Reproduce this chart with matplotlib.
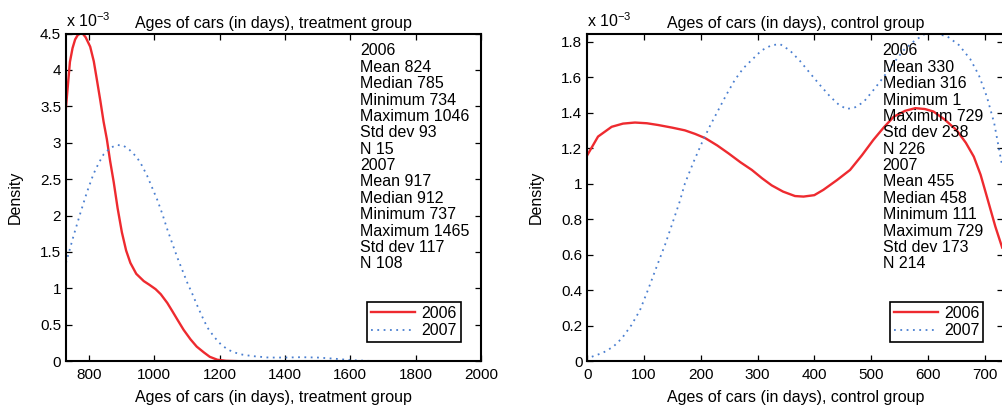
import numpy as np
import matplotlib
matplotlib.use('Agg')
import matplotlib.pyplot as plt
from matplotlib.ticker import FuncFormatter

plt.rcParams['font.family'] = ['Liberation Sans', 'DejaVu Sans']
plt.rcParams['mathtext.fontset'] = 'custom'
plt.rcParams['mathtext.rm'] = 'Liberation Sans'

# density values are in units of 1e-3
treat_x_2006 = [730, 742, 750, 758, 766, 774, 781, 790, 804, 815, 824, 835, 845, 855, 865, 876, 888,
                901, 914, 927, 945, 968, 985, 1004, 1020, 1040, 1055, 1071, 1090, 1111, 1130, 1152,
                1170, 1193, 1220, 1260, 1300, 2000]
treat_y_2006 = [3.49, 4.11, 4.3, 4.42, 4.48, 4.5, 4.5, 4.45, 4.32, 4.12, 3.88, 3.58, 3.29, 3.05, 2.75,
                2.46, 2.1, 1.77, 1.52, 1.35, 1.2, 1.1, 1.05, 0.99, 0.92, 0.8, 0.69, 0.57, 0.43, 0.3,
                0.2, 0.12, 0.06, 0.02, 0.005, 0.0, 0.0, 0.0]
treat_x_2007 = [730, 753, 773, 794, 814, 830, 845, 865, 886, 906, 925, 947, 962, 978, 993, 1009, 1025,
                1040, 1055, 1071, 1086, 1101, 1117, 1132, 1148, 1163, 1184, 1204, 1225, 1245, 1270,
                1300, 1350, 1400, 1450, 1500, 1550, 1600, 1650, 1700, 2000]
treat_y_2007 = [1.35, 1.72, 2.02, 2.32, 2.57, 2.72, 2.84, 2.93, 2.97, 2.96, 2.9, 2.8, 2.69, 2.55, 2.39,
                2.22, 2.02, 1.81, 1.62, 1.42, 1.25, 1.08, 0.92, 0.76, 0.6, 0.46, 0.33, 0.23, 0.16,
                0.12, 0.09, 0.07, 0.05, 0.05, 0.055, 0.05, 0.035, 0.015, 0.005, 0.0, 0.0]

ctrl_x_2006 = [0, 19, 43, 63, 84, 105, 125, 150, 172, 190, 208, 229, 249, 270, 290, 308, 325, 345,
               366, 381, 400, 416, 440, 463, 484, 504, 522, 540, 560, 578, 595, 610, 630, 651, 667,
               681, 693, 704, 719, 731]
ctrl_y_2006 = [1.16, 1.265, 1.32, 1.338, 1.344, 1.34, 1.33, 1.315, 1.3, 1.28, 1.256, 1.215, 1.17,
               1.12, 1.077, 1.03, 0.99, 0.955, 0.93, 0.927, 0.935, 0.965, 1.02, 1.077, 1.16, 1.246,
               1.315, 1.377, 1.41, 1.425, 1.42, 1.406, 1.36, 1.3, 1.23, 1.152, 1.05, 0.927, 0.758, 0.64]
ctrl_x_2007 = [8, 28, 46, 61, 78, 93, 108, 122, 137, 149, 163, 172, 187, 202, 217, 231, 245, 260,
               275, 290, 307, 325, 340, 357, 375, 393, 410, 428, 443, 457, 472, 487, 505, 522, 540,
               557, 575, 593, 613, 634, 655, 675, 690, 704, 717, 731]
ctrl_y_2007 = [0.025, 0.048, 0.082, 0.129, 0.204, 0.288, 0.41, 0.53, 0.655, 0.767, 0.9, 1.0, 1.12,
               1.23, 1.33, 1.415, 1.5, 1.584, 1.65, 1.697, 1.75, 1.78, 1.785, 1.75, 1.69, 1.62,
               1.555, 1.49, 1.445, 1.42, 1.43, 1.46, 1.53, 1.6, 1.68, 1.75, 1.8, 1.84, 1.845, 1.83,
               1.78, 1.7, 1.61, 1.49, 1.34, 1.1]

treat_stats = ['2006', 'Mean 824', 'Median 785', 'Minimum 734', 'Maximum 1046', 'Std dev 93', 'N 15',
               '2007', 'Mean 917', 'Median 912', 'Minimum 737', 'Maximum 1465', 'Std dev 117', 'N 108']
ctrl_stats = ['2006', 'Mean 330', 'Median 316', 'Minimum 1', 'Maximum 729', 'Std dev 238', 'N 226',
              '2007', 'Mean 455', 'Median 458', 'Minimum 111', 'Maximum 729', 'Std dev 173', 'N 214']

red = '#ee2a2f'
blue = '#4a7fd0'
fs = 11.5
tfs = 11

fig = plt.figure(figsize=(10.03, 4.09), dpi=100)
ax1 = fig.add_axes([0.0658, 0.1169, 0.4138, 0.801])
ax2 = fig.add_axes([0.5855, 0.1169, 0.4148, 0.801])

panels = [
    (ax1, treat_x_2006, treat_y_2006, treat_x_2007, treat_y_2007, treat_stats,
     'treatment group', (730, 2000), (0, 4.5), np.arange(800, 2001, 200), np.arange(0, 4.51, 0.5), 0.708),
    (ax2, ctrl_x_2006, ctrl_y_2006, ctrl_x_2007, ctrl_y_2007, ctrl_stats,
     'control group', (0, 733), (0, 1.845), np.arange(0, 701, 100), np.arange(0, 1.81, 0.2), 0.710),
]

for ax, x6, y6, x7, y7, stats, grp, xl, yl, xt, yt, tx in panels:
    ax.plot(x6, y6, color=red, lw=1.7, label='2006')
    ax.plot(x7, y7, color=blue, lw=1.3, ls=(0, (1, 2.5)), label='2007')
    ax.set_xlim(*xl)
    ax.set_ylim(*yl)
    ax.set_xticks(xt)
    ax.set_yticks(yt)
    ax.yaxis.set_major_formatter(FuncFormatter(lambda v, p: '%g' % round(v, 2)))
    ax.tick_params(direction='in', top=True, right=True, length=4.5, labelsize=tfs, width=0.9)
    ax.tick_params(axis='x', pad=5)
    for s in ax.spines.values():
        s.set_linewidth(1.5)
    ax.set_title('Ages of cars (in days), ' + grp, fontsize=fs, pad=4)
    ax.set_xlabel('Ages of cars (in days), ' + grp, fontsize=fs, labelpad=6)
    ax.set_ylabel('Density', fontsize=fs)
    ax.yaxis.set_label_coords(-0.105, 0.5)
    ax.text(0.0, 1.012, r'x 10$^{-3}$', transform=ax.transAxes, fontsize=fs, va='bottom', ha='left')
    ax.text(tx, 0.97, '\n'.join(stats), transform=ax.transAxes, fontsize=fs,
            va='top', ha='left', linespacing=1.115)
    leg = ax.legend(loc='lower right', bbox_to_anchor=(0.952, 0.058), borderaxespad=0,
                    fontsize=fs, fancybox=False, edgecolor='black', handlelength=2.75,
                    labelspacing=0.15, borderpad=0.25, handletextpad=0.4, framealpha=1)
    leg.get_frame().set_linewidth(1.2)

fig.savefig('out.png', dpi=100)
